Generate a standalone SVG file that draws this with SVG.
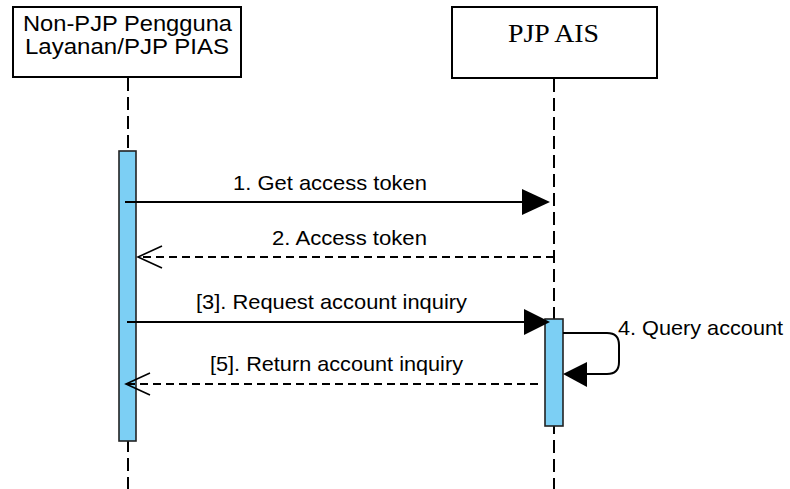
<svg xmlns="http://www.w3.org/2000/svg" width="790" height="489" viewBox="0 0 790 489">
<style>
.box{fill:#fff;stroke:#000;stroke-width:2}
.life{stroke:#000;stroke-width:2;stroke-dasharray:13 6;fill:none}
.act{fill:#7ccff4;stroke:#222;stroke-width:1.6}
.msg{stroke:#000;stroke-width:2;fill:none}
.ret{stroke:#000;stroke-width:2;fill:none;stroke-dasharray:8 5}
.lbl{font-family:"Liberation Sans",Arial,sans-serif;font-size:21px;fill:#000}
.big{font-family:"Liberation Sans",Arial,sans-serif;font-size:22px;fill:#000}
.ser{font-family:"Liberation Serif","Times New Roman",serif;font-size:25px;fill:#000}
.head{fill:#000;stroke:none}
.open{fill:none;stroke:#000;stroke-width:1.6}
</style>
<rect width="790" height="489" fill="#fff"/>
<g id="lifelines">
<line class="life" x1="128" y1="78" x2="128" y2="489"/>
<line class="life" x1="554" y1="79" x2="554" y2="489"/>
</g>
<g id="node-client">
<rect class="box" x="13" y="7" width="228" height="70"/>
<text class="big" x="23" y="31" textLength="209" lengthAdjust="spacingAndGlyphs">Non-PJP Pengguna</text>
<text class="big" x="25" y="54" textLength="204" lengthAdjust="spacingAndGlyphs">Layanan/PJP PIAS</text>
</g>
<g id="node-ais">
<rect class="box" x="452" y="7" width="205" height="71"/>
<text class="ser" x="508" y="42" textLength="91" lengthAdjust="spacingAndGlyphs">PJP AIS</text>
</g>
<g id="activation-client">
<rect class="act" x="119" y="151" width="17" height="290"/>
</g>
<g id="activation-ais">
<rect class="act" x="545" y="319" width="18" height="107"/>
</g>
<g id="connectors">
<line class="msg" x1="125" y1="202" x2="524" y2="202"/>
<polygon class="head" points="522,189 550,202 522,215"/>
<text class="lbl" x="233" y="190" textLength="194" lengthAdjust="spacingAndGlyphs">1. Get access token</text>

<line class="ret" x1="554" y1="257" x2="138" y2="257"/>
<polyline class="open" points="162,246 138,257 162,268"/>
<text class="lbl" x="272" y="245" textLength="155" lengthAdjust="spacingAndGlyphs">2. Access token</text>

<line class="msg" x1="127" y1="322" x2="526" y2="322"/>
<polygon class="head" points="524,309 550,322 524,335"/>
<text class="lbl" x="196" y="309" textLength="271" lengthAdjust="spacingAndGlyphs">[3]. Request account inquiry</text>

<path class="msg" d="M563,333 H607 Q619,333 619,345 V362 Q619,374 607,374 H585"/>
<polygon class="head" points="587,362 563,374 587,387"/>
<text class="lbl" x="618" y="335" textLength="165" lengthAdjust="spacingAndGlyphs">4. Query account</text>

<line class="ret" x1="538" y1="384" x2="126" y2="384"/>
<polyline class="open" points="150,373 126,384 150,395"/>
<text class="lbl" x="210" y="371" textLength="253" lengthAdjust="spacingAndGlyphs">[5]. Return account inquiry</text>
</g>
</svg>
